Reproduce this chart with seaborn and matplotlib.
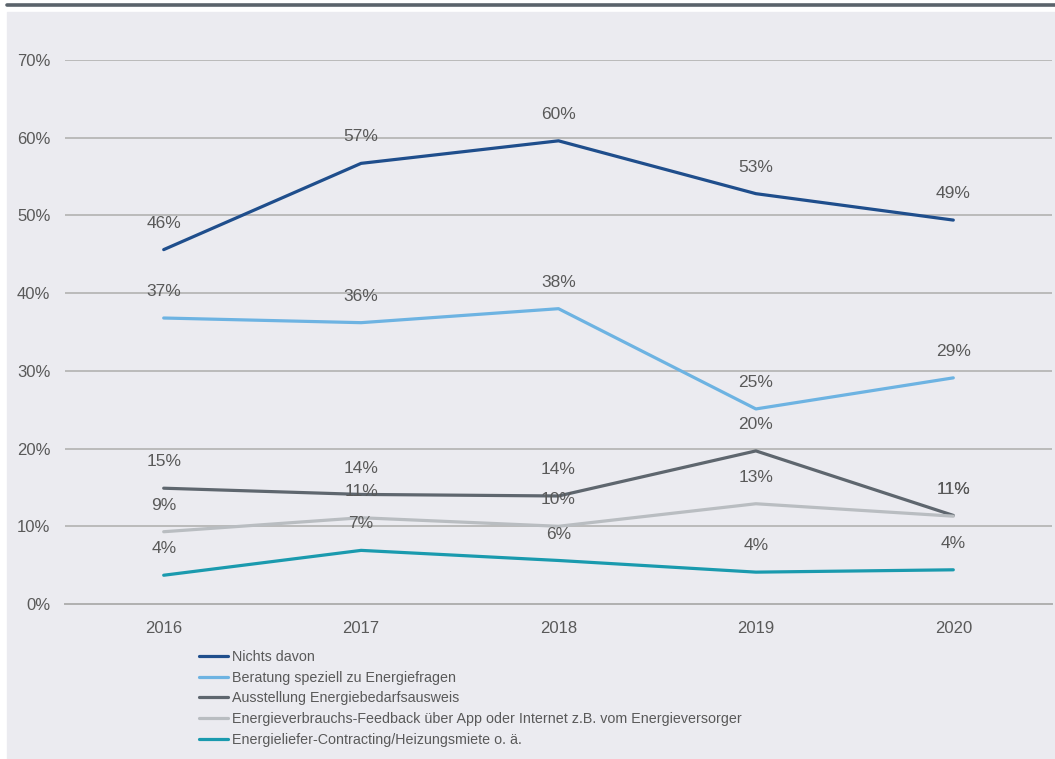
import matplotlib
matplotlib.use("Agg")
import matplotlib.pyplot as plt
from matplotlib.patches import Rectangle
from matplotlib.lines import Line2D
import pandas as pd
import seaborn as sns

years = ["2016", "2017", "2018", "2019", "2020"]
series_names = [
    "Nichts davon",
    "Beratung speziell zu Energiefragen",
    "Ausstellung Energiebedarfsausweis",
    "Energieverbrauchs-Feedback über App oder Internet z.B. vom Energieversorger",
    "Energieliefer-Contracting/Heizungsmiete o. ä.",
]
nichts = [45.6, 56.7, 59.6, 52.8, 49.4]
beratung = [36.8, 36.2, 38.0, 25.1, 29.1]
ausstellung = [14.9, 14.1, 13.9, 19.7, 11.4]
feedback = [9.3, 11.1, 10.0, 12.9, 11.3]
contracting = [3.7, 6.9, 5.6, 4.1, 4.4]
colors = ["#1F4E8C", "#6DB3E2", "#5E666E", "#B9BDC1", "#1A9AAE"]
yticks = [0, 10, 20, 30, 40, 50, 60, 70]

values = [nichts, beratung, ausstellung, feedback, contracting]
rows = []
for name, vals in zip(series_names, values):
    for i, (yr, v) in enumerate(zip(years, vals)):
        rows.append({"pos": i, "year": yr, "series": name, "value": v})
df = pd.DataFrame(rows)

sns.set_theme(style="white")
bg = "#EBEBF0"
txt = "#595959"
plt.rcParams["font.family"] = ["Liberation Sans", "DejaVu Sans"]

fig = plt.figure(figsize=(10.55, 7.59), dpi=100, facecolor="white")
W, H = 1055, 759
# grey panel and top rule
fig.patches.append(Rectangle((7 / W, 0), 1 - 7 / W, 1 - 12 / H,
                             transform=fig.transFigure, color=bg, zorder=-5))
fig.lines.append(Line2D([7 / W, 1], [1 - 5 / H, 1 - 5 / H], transform=fig.transFigure,
                        color="#5A636B", lw=2.6, zorder=-4))

ax = fig.add_axes([65 / W, 1 - 604 / H, (1052 - 65) / W, (604 - 60) / H])
ax.set_zorder(5)
ax.set_facecolor("none")

sns.lineplot(data=df, x="pos", y="value", hue="series", hue_order=series_names,
             palette=colors, linewidth=2.3, ax=ax, legend=False, sort=False)

for vals in values:
    for i, v in enumerate(vals):
        ax.annotate(f"{v:.0f}%", (i, v), xytext=(0, 19), textcoords="offset points",
                    ha="center", va="center", fontsize=12.5, color=txt)

ax.set_xlim(-0.5, 4.5)
ax.set_ylim(0, 70)
ax.set_yticks(yticks)
ax.set_yticklabels([f"{t}%" for t in yticks], fontsize=12, color=txt)
ax.set_xticks(range(len(years)))
ax.set_xticklabels(years, fontsize=12, color=txt)
ax.set_xticks([-0.5, 0.5, 1.5, 2.5, 3.5, 4.5], minor=True)
ax.tick_params(axis="x", which="major", length=0, pad=12)
ax.tick_params(axis="x", which="minor", length=5, width=1, color="#B0B0B0", direction="out")
ax.tick_params(axis="y", length=0, pad=10.5)
for t in yticks[1:]:
    ax.axhline(t, color="#BABABA", lw=1.4, zorder=0.5)
for s in ["left", "right", "top"]:
    ax.spines[s].set_visible(False)
ax.spines["bottom"].set_color("#B0B0B0")
ax.spines["bottom"].set_linewidth(1.4)
ax.set_xlabel("")
ax.set_ylabel("")

handles = [Line2D([], [], color=c, lw=2.3) for c in colors]
leg = fig.legend(handles, series_names, loc="upper left",
                 bbox_to_anchor=(199 / W, 1 - 650 / H), frameon=False,
                 prop={"family": ["Liberation Sans", "DejaVu Sans"], "size": 10.3},
                 handlelength=2.0, handletextpad=0.3, labelspacing=0.47,
                 borderpad=0, borderaxespad=0)
for t in leg.get_texts():
    t.set_color(txt)

fig.savefig("out.png", dpi=100, facecolor=fig.get_facecolor())
